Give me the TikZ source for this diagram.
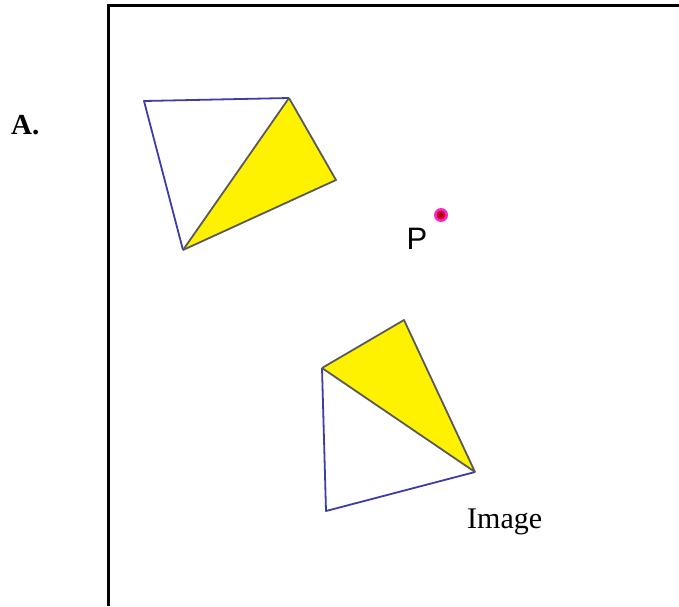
\documentclass[tikz,border=0pt]{standalone}
\usepackage{fontspec}
\setmainfont{Liberation Serif}
\newfontfamily\psans{Liberation Sans}
\begin{document}
\begin{tikzpicture}[x=1pt,y=-1pt,
  frameline/.style={line width=3pt,black},
  blueedge/.style={draw={rgb,255:red,60;green,60;blue,170},line width=1.8pt,line join=round},
  grayedge/.style={draw={rgb,255:red,90;green,90;blue,90},line width=1.8pt,line join=round},
  yellowfill/.style={fill=yellow}]
\useasboundingbox (0,0) rectangle (679,606);
% frame
\coordinate (fbl) at (108,606);
\coordinate (ftl) at (108,5);
\coordinate (ftr) at (679,5);
\draw[frameline] (fbl) -- (ftl) -- (ftr);
% upper triangles
\coordinate (A) at (144,101);
\coordinate (B) at (289,98);
\coordinate (C) at (183,250);
\coordinate (D) at (336,180);
\fill[yellowfill] (B) -- (D) -- (C) -- cycle;
\draw[blueedge] (C) -- (A) -- (B);
\draw[grayedge] (B) -- (C);
\draw[grayedge] (B) -- (D) -- (C);
% lower triangles
\coordinate (E) at (322,368);
\coordinate (F) at (404,320);
\coordinate (G) at (475,472);
\coordinate (H) at (326,511);
\fill[yellowfill] (E) -- (F) -- (G) -- cycle;
\draw[blueedge] (E) -- (H) -- (G);
\draw[grayedge] (E) -- (F) -- (G) -- (E);
% point P
\node[circle,inner sep=0pt,minimum size=14pt,fill={rgb,255:red,250;green,40;blue,200}] (Pdot) at (441,215) {};
\node[circle,inner sep=0pt,minimum size=9pt,fill={rgb,255:red,220;green,0;blue,40}] (Pmid) at (Pdot) {};
\node[circle,inner sep=0pt,minimum size=4pt,fill={rgb,255:red,120;green,0;blue,20}] (Pcore) at (Pdot) {};
\node[font=\psans\fontsize{31}{33}\selectfont,inner sep=0pt,anchor=base] (Plabel) at (417,249) {P};
% labels
\node[font=\bfseries\fontsize{29}{31}\selectfont,inner sep=0pt,anchor=base west] (Alabel) at (11,134) {A.};
\node[font=\fontsize{30}{32}\selectfont,inner sep=0pt,anchor=base west] (Imglabel) at (467,528) {Image};
\end{tikzpicture}
\end{document}
